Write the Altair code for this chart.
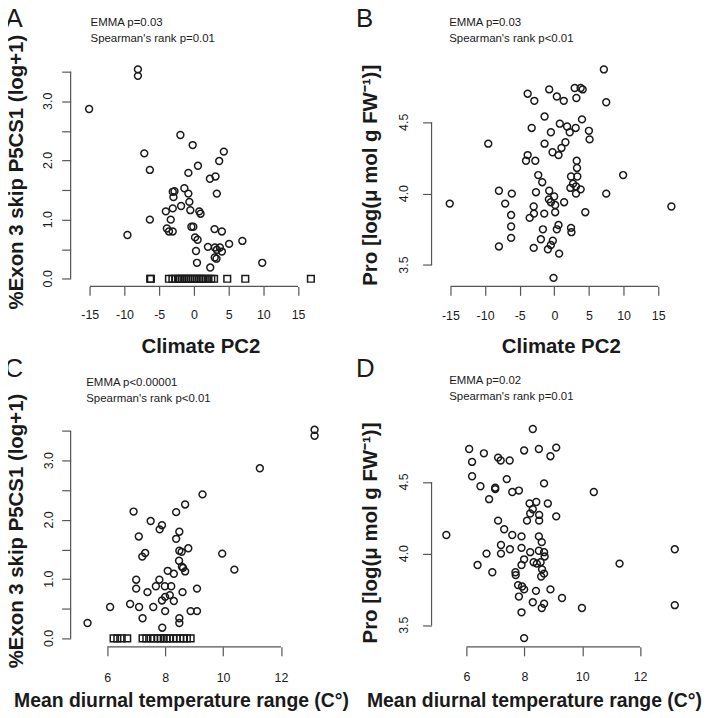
import altair as alt
import pandas as pd

FONT = "Liberation Sans"

# ---------------- Panel A: Climate PC2 vs %Exon 3 skip ----------------
a_circ_x = [-8.07, -8.07, -15.1, -1.95, -0.18, -7.15, 4.31, 3.64, -6.35, 0.58, -0.8, 3.11, 2.3, 3.3,
            -3.05, -2.8, -2.95, -1.38, -0.8, -0.66, -1.85, -3.05, -4.05, -0.52, 0.77, 0.96, -3.34,
            -6.35, -3.9, -3.6, -3.06, -0.37, -0.09, -9.58, 2.97, 4.03, 0.16, 0.53, 6.98, 5.07, 2.02,
            3.02, 3.74, 3.3, 4.03, 0.3, 3.0, 3.25, 0.44, 9.84, 2.35]
a_circ_y = [3.54, 3.43, 2.87, 2.43, 2.26, 2.12, 2.15, 1.99, 1.84, 1.91, 1.79, 1.73, 1.69, 1.44,
            1.47, 1.48, 1.38, 1.53, 1.44, 1.30, 1.23, 1.19, 1.14, 1.16, 1.14, 1.10, 1.0,
            1.0, 0.85, 0.80, 0.80, 0.88, 0.88, 0.74, 0.84, 0.80, 0.70, 0.66, 0.64, 0.59, 0.54,
            0.53, 0.53, 0.49, 0.46, 0.47, 0.36, 0.34, 0.27, 0.27, 0.19]
a_sq_x = [-6.3, -6.2, -3.6, -3.1, -2.7, -2.3, -2.0, -1.7, -1.4, -1.1, -0.8, -0.5, -0.2, 0.1, 0.4,
          0.7, 1.0, 1.3, 1.7, 2.1, 2.5, 2.9, 4.8, 7.4, 16.85]

# ---------------- Panel B: Climate PC2 vs Pro ----------------
b_x = [7.15, -3.85, -2.89, -0.74, 0.36, 1.36, 2.94, 3.8, 4.09, 3.18, 7.49, -1.41, 3.99, -3.27, 0.79,
       1.84, 3.08, 2.22, 4.99, -0.5, 5.09, -9.54, -1.41, 1.6, 1.03, -0.26, 0.6, -3.85, -4.09, -2.75,
       3.23, 3.27, 3.32, 2.41, -2.32, -1.75, 9.93, 2.7, 2.32, 3.13, 3.8, 3.13, 7.49, -8.0, -6.14,
       -2.65, -0.74, -0.03, -0.79, -0.5, 0.12, 1.41, -15.1, 16.9, -7.1, -2.98, -6.24, -2.94, -3.56,
       -1.46, 0.12, 4.47, -6.24, 0.6, 0.36, 2.41, 2.47, -1.65, -6.24, -1.94, -0.22, -0.5, -0.93,
       -8.0, -2.98, 0.69, -0.12]
b_y = [4.87, 4.70, 4.65, 4.73, 4.68, 4.65, 4.74, 4.74, 4.73, 4.67, 4.64, 4.54, 4.52, 4.46, 4.49,
       4.47, 4.46, 4.43, 4.44, 4.43, 4.38, 4.35, 4.35, 4.36, 4.32, 4.29, 4.27, 4.27, 4.23, 4.23,
       4.23, 4.18, 4.12, 4.12, 4.13, 4.08, 4.13, 4.07, 4.04, 4.05, 4.03, 4.0, 4.0, 4.02, 4.0,
       4.01, 4.02, 3.98, 3.96, 3.94, 3.92, 3.94, 3.93, 3.91, 3.93, 3.91, 3.85, 3.86, 3.83,
       3.86, 3.87, 3.87, 3.77, 3.78, 3.75, 3.76, 3.73, 3.75, 3.69, 3.68, 3.67, 3.64, 3.61,
       3.63, 3.62, 3.58, 3.41]

# ---------------- Panel C: diurnal range vs %Exon 3 skip ----------------
c_circ_x = [13.16, 13.16, 11.27, 9.29, 8.69, 8.38, 6.91, 7.5, 7.89, 7.81, 8.49, 8.38, 7.09, 8.8,
            8.49, 8.57, 7.31, 7.21, 9.97, 8.48, 8.58, 8.62, 8.69, 10.39, 8.09, 8.3, 7.0, 7.0, 7.8,
            7.68, 7.99, 8.21, 9.1, 7.39, 8.6, 8.16, 8.0, 7.89, 8.3, 6.1, 6.79, 7.1, 7.59, 8.0, 8.88,
            9.1, 7.22, 8.49, 8.49, 5.32, 7.9]
c_circ_y = [3.52, 3.42, 2.87, 2.43, 2.26, 2.13, 2.14, 1.98, 1.91, 1.84, 1.80, 1.68, 1.72, 1.52,
            1.48, 1.46, 1.44, 1.38, 1.43, 1.31, 1.21, 1.19, 1.13, 1.16, 1.14, 1.09, 0.99, 0.84, 0.99,
            0.88, 0.88, 0.88, 0.84, 0.78, 0.78, 0.73, 0.70, 0.64, 0.63, 0.53, 0.58, 0.53, 0.53, 0.46,
            0.46, 0.46, 0.34, 0.34, 0.26, 0.26, 0.18]
c_sq_x = [6.22, 6.35, 6.5, 6.69, 7.22, 7.35, 7.5, 7.62, 7.75, 7.85, 7.95, 8.05, 8.15, 8.28, 8.4,
          8.52, 8.63, 8.75, 8.88]

# ---------------- Panel D: diurnal range vs Pro ----------------
d_x = [8.29, 6.09, 6.6, 7.09, 7.18, 7.49, 7.99, 8.5, 9.1, 8.9, 6.19, 6.19, 7.39, 8.68, 6.48, 6.99,
       6.99, 7.58, 7.81, 10.4, 6.78, 8.18, 8.41, 8.81, 8.29, 8.2, 8.51, 9.1, 8.09, 8.51, 7.09, 7.3,
       5.3, 7.58, 7.9, 8.5, 8.6, 7.19, 7.9, 7.5, 6.69, 7.19, 8.2, 8.5, 8.68, 8.7, 7.99, 8.32, 8.43,
       8.56, 7.9, 6.38, 11.29, 13.2, 6.89, 7.69, 7.7, 8.61, 8.58, 8.68, 7.78, 7.92, 7.99, 7.81, 8.4,
       8.9, 9.3, 8.29, 8.68, 8.6, 9.99, 13.2, 7.9, 7.99]
d_y = [4.87, 4.73, 4.70, 4.67, 4.65, 4.65, 4.72, 4.73, 4.74, 4.68, 4.64, 4.54, 4.52, 4.49, 4.47, 4.46,
       4.45, 4.43, 4.44, 4.43, 4.38, 4.35, 4.36, 4.35, 4.31, 4.28, 4.27, 4.26, 4.23, 4.23, 4.23, 4.17,
       4.13, 4.13, 4.12, 4.12, 4.08, 4.06, 4.04, 4.03, 4.0, 4.0, 4.01, 4.02, 4.01, 3.98, 3.96, 3.94,
       3.93, 3.94, 3.92, 3.92, 3.93, 4.03, 3.87, 3.87, 3.85, 3.89, 3.84, 3.86, 3.78, 3.77, 3.75,
       3.70, 3.74, 3.75, 3.69, 3.66, 3.65, 3.62, 3.62, 3.64, 3.59, 3.41]

# ---------------- ticks / texts ----------------
pc2_ticks = [-15, -10, -5, 0, 5, 10, 15]
dtr_ticks = [6, 8, 10, 12]
exon_ticks = [0, 0.5, 1.0, 1.5, 2.0, 2.5, 3.0, 3.5]
pro_ticks = [3.5, 4.0, 4.5]
exon_label_vals = [0.0, 1.0, 2.0, 3.0]
exon_label_txt = ["0.0", "1.0", "2.0", "3.0"]
pro_label_vals = [3.5, 4.0, 4.5]
pro_label_txt = ["3.5", "4.0", "4.5"]

exon_title = "%Exon 3 skip P5CS1 (log+1)"
pro_title = "Pro [log(\u03bc mol g FW\u207b\u00b9)]"
pc2_title = "Climate PC2"
dtr_title = "Mean diurnal temperature range (C\u00b0)"

AX = "#555555"
INK = "#1a1a1a"


def txt(s, x, y, size, weight="normal", angle=0, align="left", baseline="alphabetic"):
    return alt.Chart(pd.DataFrame({"t": [s]})).mark_text(
        font=FONT, fontSize=size, fontWeight=weight, angle=angle, align=align,
        baseline=baseline, color=INK
    ).encode(text="t:N", x=alt.value(x), y=alt.value(y))


def panel(px, py, sqx, xdom, ydom, xticks, yticks, ylab_vals, ylab_txt, w, h, ylab_x, xlab_pad,
          letter, letter_xy, stats, stats_x, stats_y, xtitle, xtitle_xy, xtitle_size,
          ytitle, ytitle_xy, helper=False):
    xaxis = alt.Axis(values=xticks, domain=False, grid=False, title=None, tickSize=9,
                     tickColor=AX, tickWidth=1.2, labelFont=FONT, labelFontSize=12.5,
                     labelColor=INK, labelPadding=xlab_pad, labelFlush=False,
                     labelOverlap=False, offset=0, labelExpr="'' + datum.value")
    yaxis = alt.Axis(values=yticks, domain=False, grid=False, title=None, tickSize=9,
                     tickColor=AX, tickWidth=1.2, labels=False, offset=7)
    xs = alt.Scale(domain=xdom, nice=False, zero=False)
    ys = alt.Scale(domain=ydom, nice=False, zero=False)

    circ = alt.Chart(pd.DataFrame({"x": px, "y": py})).mark_point(
        shape="circle", filled=False, size=48, strokeWidth=1.5, color=INK, opacity=1
    ).encode(x=alt.X("x:Q", scale=xs, axis=xaxis), y=alt.Y("y:Q", scale=ys, axis=yaxis))
    layers = [circ]
    if sqx:
        sq = alt.Chart(pd.DataFrame({"x": sqx, "y": [0.0] * len(sqx)})).mark_point(
            shape="square", filled=False, size=45, strokeWidth=1.5, color=INK, opacity=1
        ).encode(x=alt.X("x:Q", scale=xs, axis=xaxis), y=alt.Y("y:Q", scale=ys, axis=yaxis))
        layers.append(sq)
    xdomline = alt.Chart(pd.DataFrame({"x": [xticks[0]], "x2": [xticks[-1]]})).mark_rule(
        color=AX, strokeWidth=1.2
    ).encode(x=alt.X("x:Q", scale=xs, axis=xaxis), x2="x2:Q", y=alt.value(h))
    ydomline = alt.Chart(pd.DataFrame({"y": [yticks[0]], "y2": [yticks[-1]]})).mark_rule(
        color=AX, strokeWidth=1.2
    ).encode(y=alt.Y("y:Q", scale=ys, axis=yaxis), y2="y2:Q", x=alt.value(-7))
    ylabels = alt.Chart(pd.DataFrame({"y": ylab_vals, "t": ylab_txt})).mark_text(
        font=FONT, fontSize=12.5, angle=270, align="center", baseline="middle", color=INK
    ).encode(y=alt.Y("y:Q", scale=ys, axis=yaxis), x=alt.value(ylab_x), text="t:N")
    layers += [xdomline, ydomline, ylabels]
    layers.append(txt(letter, letter_xy[0], letter_xy[1], 26))
    layers.append(txt(stats[0], stats_x, stats_y[0], 11.5))
    layers.append(txt(stats[1], stats_x, stats_y[1], 11.5))
    layers.append(txt(xtitle, xtitle_xy[0], xtitle_xy[1], xtitle_size, weight="bold",
                      align="center"))
    layers.append(txt(ytitle, ytitle_xy[0], ytitle_xy[1], 20.5, weight="bold", angle=270,
                      align="center", baseline="middle"))
    if helper:
        layers.append(alt.Chart(pd.DataFrame({"t": [""]})).mark_rule(
            strokeWidth=0, opacity=0
        ).encode(x=alt.value(-80), x2=alt.value(-79), y=alt.value(-62)))
    return alt.layer(*layers).properties(width=w, height=h)


W = 243
H1 = 226
H2 = 228.5

pA = panel(a_circ_x, a_circ_y, a_sq_x, [-16.76, 18.05], [-0.129, 3.669], pc2_ticks, exon_ticks,
           exon_label_vals, exon_label_txt, W, H1, -29.7, 13,
           "A", (-72.5, -34.5), ["EMMA p=0.03", "Spearman's rank p=0.01"],
           13, (-35.7, -19.7), pc2_title, (124, 293), 20.5, exon_title, (-61, 111), helper=True)
pB = panel(b_x, b_y, None, [-16.72, 18.16], [3.350, 4.924], pc2_ticks, pro_ticks,
           pro_label_vals, pro_label_txt, W, H1, -34.3, 14.5,
           "B", (-83, -34.5), ["EMMA p=0.03", "Spearman's rank p<0.01"],
           10.7, (-35.7, -19.7), pc2_title, (123.5, 293), 20.5, pro_title, (-67.7, 114.2))
pC = panel(c_circ_x, c_circ_y, c_sq_x, [4.977, 13.32], [-0.143, 3.691], dtr_ticks, exon_ticks,
           exon_label_vals, exon_label_txt, W, H2, -28.5, 15.5,
           "C", (-73.5, -43.3), ["EMMA p<0.00001", "Spearman's rank p<0.01"],
           8.7, (-34, -17.7), dtr_title, (104.5, 289.3), 19.5, exon_title, (-61, 112))
pD = panel(d_x, d_y, None, [5.03, 13.385], [3.349, 4.935], dtr_ticks, pro_ticks,
           pro_label_vals, pro_label_txt, W, H2, -34.3, 15,
           "D", (-83, -43.3), ["EMMA p=0.02", "Spearman's rank p=0.01"],
           10.7, (-35.7, -19.3), dtr_title, (96.5, 289.3), 19.5, pro_title, (-67.7, 114))

chart = alt.concat(pA, pB, pC, pD, columns=2, spacing={"row": 134, "column": 120},
                   bounds="flush", align="each").properties(
    padding={"left": -10, "top": -10, "right": 0, "bottom": 0},
    background="white"
).configure_view(stroke=None)

chart.save("out.html", embed_options={"renderer": "svg", "actions": False})
